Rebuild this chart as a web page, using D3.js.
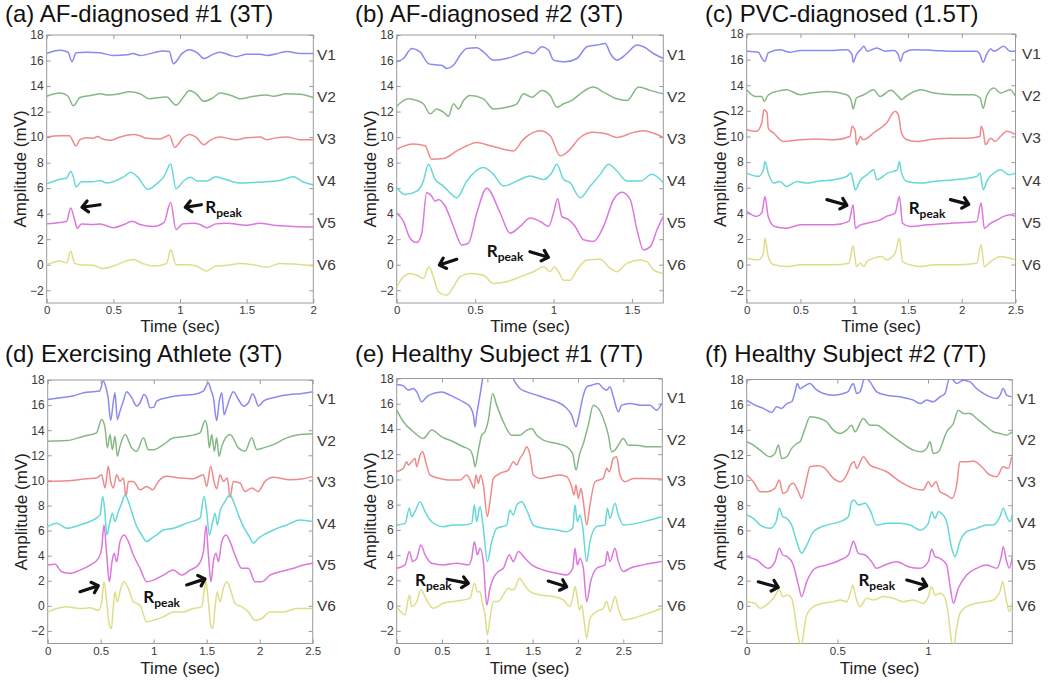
<!DOCTYPE html>
<html>
<head>
<meta charset="utf-8">
<script src="https://cdn.jsdelivr.net/npm/d3@7"></script>
<style>
body { margin: 0; background: #fff; }
svg { display: block; }
</style>
</head>
<body>
<svg id="chart" width="1050" height="683"></svg>
<script>
// lead names, colours and where each lead sits on the amplitude axis
var leads = ["V1", "V2", "V3", "V4", "V5", "V6"];
var leadColors = ["#8a8af0", "#86b886", "#f08a8a", "#66d8d8", "#dc78dc", "#dede8a"];
var leadOffsets = [16.5, 13.2, 9.9, 6.6, 3.3, 0];
var yTicks = [-2, 0, 2, 4, 6, 8, 10, 12, 14, 16, 18];

// (a) AF-diagnosed #1  [time sec, amplitude mV]
var aV1 = [[0,16.55],[0.1,16.8],[0.16,16.65],[0.19,15.9],[0.22,16.6],[0.3,16.65],[0.4,16.6],[0.5,16.4],[0.6,16.45],[0.65,16.55],[0.7,16.4],[0.8,16.6],[0.87,16.75],[0.92,16.7],[0.95,15.75],[1.02,16.6],[1.07,16.85],[1.13,16.6],[1.18,16.15],[1.25,16.5],[1.3,16.65],[1.38,16.4],[1.42,16.3],[1.5,16.5],[1.6,16.5],[1.65,16.4],[1.75,16.6],[1.8,16.7],[1.9,16.55],[2,16.55]];
var aV2 = [[0,13.2],[0.1,13.45],[0.16,13.2],[0.2,12.45],[0.25,13.1],[0.35,13.3],[0.4,13.4],[0.45,13.3],[0.55,13.4],[0.62,13.55],[0.7,13.4],[0.77,13.0],[0.85,13.1],[0.9,13.15],[0.97,12.5],[1.03,13.2],[1.07,13.65],[1.12,13.4],[1.18,12.8],[1.25,13.1],[1.3,13.45],[1.4,13.2],[1.45,13.0],[1.55,13.2],[1.65,13.3],[1.7,13.2],[1.8,13.4],[1.9,13.35],[2,13.1]];
var aV3 = [[0,10.0],[0.1,10.1],[0.17,10.1],[0.22,9.3],[0.25,9.8],[0.3,9.95],[0.35,9.9],[0.38,10.05],[0.42,9.85],[0.48,9.75],[0.55,10.0],[0.65,10.2],[0.7,10.1],[0.75,9.9],[0.85,9.85],[0.92,10.15],[0.96,9.2],[1.02,9.9],[1.07,10.2],[1.12,10.0],[1.18,9.4],[1.22,9.7],[1.3,10.0],[1.38,9.85],[1.42,9.8],[1.5,9.95],[1.6,10.0],[1.65,9.8],[1.7,9.9],[1.8,10.0],[1.9,9.8],[2,9.8]];
var aV4 = [[0,6.35],[0.1,6.7],[0.15,6.8],[0.18,7.3],[0.2,6.9],[0.22,6.1],[0.26,6.5],[0.35,6.5],[0.4,6.6],[0.45,6.4],[0.5,6.5],[0.58,6.9],[0.63,7.25],[0.68,6.9],[0.76,5.9],[0.82,6.3],[0.88,6.9],[0.93,7.9],[0.97,5.95],[1.03,6.6],[1.08,6.85],[1.13,6.55],[1.2,6.55],[1.27,6.9],[1.35,6.65],[1.45,6.4],[1.55,6.45],[1.65,6.5],[1.75,6.6],[1.85,6.9],[1.92,6.5],[2,6.25]];
var aV5 = [[0,3.2],[0.1,3.3],[0.15,3.4],[0.18,4.45],[0.21,3.5],[0.23,2.85],[0.26,3.2],[0.35,3.15],[0.4,3.2],[0.5,2.9],[0.58,3.15],[0.64,3.4],[0.7,3.15],[0.8,3.0],[0.88,3.3],[0.93,4.9],[0.97,2.75],[1.02,3.2],[1.1,3.25],[1.15,3.15],[1.2,2.9],[1.27,3.2],[1.35,3.25],[1.5,3.1],[1.6,3.25],[1.7,3.1],[1.85,3.0],[2,2.95]];
var aV6 = [[0,0.0],[0.1,0.3],[0.15,0.15],[0.18,1.05],[0.21,0.1],[0.25,0.0],[0.35,-0.05],[0.42,-0.3],[0.5,-0.1],[0.6,0.3],[0.65,0.4],[0.72,0.1],[0.8,-0.1],[0.9,0.1],[0.93,1.2],[0.97,0.0],[1.05,0.0],[1.12,-0.1],[1.2,-0.5],[1.27,-0.1],[1.35,-0.05],[1.45,0.1],[1.55,0.0],[1.65,-0.2],[1.75,0.1],[1.85,0.05],[2,-0.1]];

// (b) AF-diagnosed #2
var bV1 = [[0,15.9],[0.043,16.16],[0.096,16.95],[0.149,16.68],[0.202,15.76],[0.234,15.68],[0.287,15.63],[0.319,15.37],[0.362,15.63],[0.404,16.42],[0.447,16.95],[0.511,17.0],[0.553,16.68],[0.617,16.03],[0.702,16.16],[0.766,16.42],[0.83,16.68],[0.872,16.55],[0.926,17.08],[0.968,16.82],[1.0,16.03],[1.032,15.95],[1.074,15.9],[1.149,16.16],[1.213,17.08],[1.277,17.21],[1.33,17.34],[1.362,16.55],[1.404,16.03],[1.468,16.55],[1.532,17.21],[1.574,17.08],[1.638,16.55],[1.7,16.16]];
var bV2 = [[0,12.42],[0.074,13.0],[0.128,12.87],[0.17,12.61],[0.213,11.82],[0.255,12.21],[0.298,11.95],[0.33,11.63],[0.362,12.61],[0.394,12.21],[0.426,12.87],[0.468,13.26],[0.553,13.0],[0.617,12.21],[0.702,12.34],[0.766,12.61],[0.809,13.39],[0.862,13.13],[0.926,13.66],[0.979,13.26],[1.021,12.34],[1.064,12.61],[1.117,12.87],[1.17,13.39],[1.255,13.92],[1.319,13.53],[1.404,13.0],[1.468,12.87],[1.543,13.92],[1.617,13.66],[1.7,13.39]];
var bV3 = [[0,9.05],[0.106,9.45],[0.181,9.32],[0.223,8.26],[0.298,8.32],[0.383,8.92],[0.447,9.32],[0.511,9.58],[0.596,9.32],[0.681,9.05],[0.745,8.92],[0.809,9.84],[0.915,10.5],[0.979,10.11],[1.043,8.53],[1.096,8.92],[1.17,9.97],[1.255,10.37],[1.34,10.24],[1.404,9.97],[1.511,10.37],[1.574,10.5],[1.7,9.97]];
var bV4 = [[0,6.03],[0.053,5.5],[0.128,5.76],[0.17,6.55],[0.202,7.87],[0.245,6.68],[0.298,6.16],[0.34,5.63],[0.383,5.24],[0.447,6.55],[0.553,7.61],[0.617,7.08],[0.681,6.16],[0.766,6.55],[0.851,6.95],[0.936,6.68],[0.989,7.21],[1.021,7.87],[1.064,6.68],[1.106,6.42],[1.17,5.24],[1.234,6.16],[1.298,7.08],[1.351,7.87],[1.404,7.34],[1.468,6.55],[1.553,6.55],[1.628,7.08],[1.7,6.42]];
var bV5 = [[0,4.05],[0.043,3.39],[0.085,2.08],[0.128,1.74],[0.16,2.47],[0.191,5.63],[0.223,5.37],[0.245,4.97],[0.266,5.11],[0.309,4.58],[0.362,3.0],[0.415,1.55],[0.457,1.68],[0.511,4.05],[0.574,6.0],[0.66,4.05],[0.723,2.47],[0.787,3.0],[0.851,3.66],[0.915,3.39],[0.968,3.0],[1.0,4.05],[1.026,5.16],[1.053,3.79],[1.096,3.53],[1.138,3.0],[1.191,1.95],[1.255,1.82],[1.319,3.0],[1.383,5.11],[1.436,5.68],[1.489,5.11],[1.532,2.74],[1.574,1.16],[1.617,1.42],[1.66,2.74],[1.7,3.79]];
var bV6 = [[0,-1.74],[0.043,-0.95],[0.085,-0.68],[0.128,-0.82],[0.17,-1.08],[0.206,-0.16],[0.234,-0.95],[0.266,-2.13],[0.319,-2.39],[0.362,-1.74],[0.404,-0.95],[0.468,-0.68],[0.553,-0.82],[0.617,-1.47],[0.702,-1.34],[0.787,-0.95],[0.872,-0.55],[0.936,-0.16],[0.979,-0.55],[1.004,-0.16],[1.032,-0.55],[1.064,-1.21],[1.106,-1.21],[1.149,-0.42],[1.213,0.37],[1.298,0.42],[1.362,-0.29],[1.404,-0.55],[1.468,0.11],[1.553,0.37],[1.596,0.24],[1.638,-0.42],[1.7,-0.68]];

// (c) PVC-diagnosed
var cV1 = [[0,16.65],[0.11,16.57],[0.14,16.13],[0.17,15.86],[0.2,16.52],[0.31,16.78],[0.4,16.57],[0.5,16.72],[0.65,16.72],[0.81,16.72],[0.93,16.78],[0.98,16.39],[0.99,15.79],[1.02,16.39],[1.06,16.78],[1.09,17.04],[1.12,16.65],[1.21,16.91],[1.29,16.65],[1.37,16.72],[1.41,16.39],[1.43,15.86],[1.46,16.52],[1.55,16.78],[1.74,16.72],[1.93,16.65],[2.14,16.65],[2.17,16.39],[2.2,15.79],[2.23,16.39],[2.27,16.83],[2.3,16.65],[2.39,17.04],[2.45,16.65],[2.5,16.65]];
var cV2 = [[0,13.65],[0.08,13.13],[0.14,13.13],[0.165,12.74],[0.19,13.13],[0.22,13.34],[0.28,13.52],[0.37,13.65],[0.5,13.26],[0.59,13.39],[0.75,13.52],[0.93,13.26],[0.97,12.87],[0.99,12.14],[1.02,13.0],[1.09,13.26],[1.18,13.65],[1.24,13.13],[1.34,13.6],[1.41,13.13],[1.44,12.87],[1.48,13.13],[1.62,13.65],[1.74,13.39],[1.93,13.26],[2.11,13.26],[2.17,13.0],[2.2,12.2],[2.23,13.13],[2.3,13.78],[2.36,13.39],[2.45,13.65],[2.5,13.13]];
var cV3 = [[0,10.53],[0.09,10.4],[0.14,11.05],[0.16,12.09],[0.19,11.83],[0.2,10.66],[0.25,10.27],[0.34,9.61],[0.5,9.74],[0.65,9.8],[0.81,9.74],[0.96,10.0],[0.98,10.79],[1.01,10.4],[1.02,9.35],[1.06,10.0],[1.08,9.74],[1.12,9.87],[1.18,10.27],[1.3,11.05],[1.38,11.96],[1.41,11.7],[1.44,10.27],[1.49,9.74],[1.58,9.61],[1.74,9.8],[1.9,9.87],[2.05,9.87],[2.17,10.0],[2.18,10.79],[2.2,10.4],[2.22,9.35],[2.27,9.87],[2.31,9.61],[2.36,10.0],[2.42,10.4],[2.5,10.14]];
var cV4 = [[0,7.14],[0.11,6.88],[0.155,7.4],[0.17,8.05],[0.2,7.14],[0.25,6.36],[0.31,6.49],[0.37,6.1],[0.47,6.49],[0.56,6.36],[0.65,6.49],[0.81,6.62],[0.93,6.88],[0.97,7.14],[0.99,6.49],[1.01,5.84],[1.06,6.62],[1.12,7.01],[1.18,7.4],[1.21,6.62],[1.31,7.14],[1.4,7.4],[1.42,8.05],[1.44,7.14],[1.49,6.49],[1.62,6.36],[1.74,6.49],[1.93,6.62],[2.14,6.88],[2.17,7.14],[2.2,5.84],[2.24,6.62],[2.3,7.14],[2.36,7.4],[2.44,7.01],[2.5,7.14]];
var cV5 = [[0,4.15],[0.09,3.76],[0.14,4.02],[0.17,5.32],[0.2,3.76],[0.26,2.97],[0.37,2.84],[0.5,3.1],[0.65,3.1],[0.81,3.1],[0.95,3.37],[0.99,4.67],[1.01,2.84],[1.06,3.1],[1.12,3.23],[1.24,3.49],[1.3,3.76],[1.38,4.02],[1.42,5.32],[1.45,3.23],[1.52,2.97],[1.68,3.1],[1.9,3.23],[2.14,3.37],[2.18,4.8],[2.21,2.84],[2.27,3.23],[2.33,3.49],[2.39,3.76],[2.45,3.89],[2.5,3.76]];
var cV6 = [[0,0.5],[0.11,0.37],[0.155,0.89],[0.17,2.06],[0.2,0.63],[0.25,-0.02],[0.37,-0.15],[0.5,-0.02],[0.65,-0.02],[0.81,-0.02],[0.95,0.11],[0.99,1.46],[1.02,-0.15],[1.06,0.11],[1.09,-0.15],[1.12,0.24],[1.18,0.5],[1.26,0.63],[1.3,0.37],[1.38,0.89],[1.42,2.06],[1.45,0.24],[1.52,-0.02],[1.615,-0.15],[1.74,-0.02],[1.93,-0.02],[2.14,0.11],[2.18,1.54],[2.21,-0.15],[2.27,0.24],[2.36,0.63],[2.45,0.5],[2.5,0.37]];

// (d) Exercising athlete
var dV1 = [[0,16.45],[0.12,16.59],[0.24,16.72],[0.34,16.99],[0.43,17.07],[0.49,17.12],[0.525,17.92],[0.55,17.39],[0.57,16.59],[0.594,14.77],[0.62,16.32],[0.635,16.99],[0.657,14.85],[0.682,15.52],[0.714,16.32],[0.745,17.07],[0.792,16.59],[0.84,15.92],[0.871,16.19],[0.909,16.85],[0.934,16.59],[0.965,15.79],[1.003,15.84],[1.028,16.32],[1.123,16.59],[1.248,16.77],[1.374,16.85],[1.469,17.12],[1.516,17.79],[1.538,17.25],[1.563,16.59],[1.594,14.77],[1.619,16.32],[1.642,16.99],[1.664,15.25],[1.689,15.79],[1.72,16.59],[1.752,17.07],[1.799,16.45],[1.846,15.92],[1.893,16.19],[1.934,16.91],[1.956,16.59],[1.987,15.92],[2.035,16.32],[2.129,16.59],[2.286,16.85],[2.38,16.91],[2.5,17.07]];
var dV2 = [[0,13.12],[0.18,13.17],[0.34,13.52],[0.46,13.79],[0.509,14.85],[0.541,14.19],[0.563,12.59],[0.588,13.65],[0.61,12.45],[0.635,13.52],[0.657,11.92],[0.682,12.72],[0.73,13.65],[0.792,12.59],[0.84,12.32],[0.903,13.39],[0.95,12.45],[0.997,12.45],[1.091,12.85],[1.186,13.39],[1.311,13.52],[1.437,13.79],[1.484,14.77],[1.506,14.19],[1.525,12.59],[1.547,13.65],[1.572,12.32],[1.594,13.39],[1.616,11.92],[1.642,12.72],[1.72,13.65],[1.799,12.59],[1.862,12.32],[1.925,13.39],[1.972,12.45],[2.035,12.59],[2.129,12.85],[2.255,13.39],[2.38,13.65],[2.5,13.71]];
var dV3 = [[0,9.92],[0.18,9.97],[0.37,10.13],[0.46,10.19],[0.509,10.45],[0.541,9.39],[0.572,11.12],[0.594,9.92],[0.619,9.39],[0.651,10.45],[0.682,9.92],[0.714,10.19],[0.739,8.72],[0.761,9.92],[0.808,9.92],[0.871,9.25],[0.934,9.52],[0.991,9.25],[1.044,9.92],[1.123,10.32],[1.248,10.19],[1.374,10.13],[1.469,10.45],[1.5,9.52],[1.538,11.12],[1.569,9.92],[1.594,9.33],[1.626,10.45],[1.657,9.92],[1.695,10.19],[1.72,8.64],[1.752,9.92],[1.814,9.79],[1.862,9.12],[1.925,9.39],[1.987,9.12],[2.05,9.92],[2.129,10.24],[2.286,10.05],[2.412,10.13],[2.5,10.32]];
var dV4 = [[0,6.32],[0.085,6.59],[0.179,6.19],[0.305,6.45],[0.399,6.72],[0.494,7.25],[0.519,8.72],[0.538,7.65],[0.557,5.65],[0.588,6.72],[0.61,7.39],[0.635,6.72],[0.667,7.52],[0.698,8.19],[0.73,8.85],[0.761,8.32],[0.792,7.52],[0.84,6.32],[0.887,5.65],[0.934,5.12],[0.981,5.39],[1.028,5.65],[1.091,6.05],[1.186,6.19],[1.311,6.59],[1.437,6.99],[1.475,8.72],[1.5,7.52],[1.525,5.65],[1.557,6.72],[1.579,7.39],[1.6,6.45],[1.626,7.52],[1.673,8.32],[1.72,8.85],[1.752,8.32],[1.799,7.25],[1.846,6.32],[1.903,5.52],[1.94,4.99],[1.987,5.39],[2.035,5.65],[2.129,6.05],[2.255,6.45],[2.38,6.85],[2.5,6.72]];
var dV5 = [[0,3.25],[0.069,3.31],[0.132,2.72],[0.211,2.59],[0.305,2.85],[0.399,3.25],[0.478,3.79],[0.509,4.59],[0.531,6.45],[0.557,4.05],[0.582,1.92],[0.607,3.52],[0.626,4.19],[0.651,3.52],[0.682,5.12],[0.72,5.65],[0.761,5.12],[0.808,4.05],[0.871,2.99],[0.934,1.92],[0.997,2.05],[1.091,2.45],[1.186,2.85],[1.264,2.45],[1.343,2.85],[1.421,3.25],[1.469,4.32],[1.494,6.4],[1.516,4.05],[1.541,1.92],[1.563,3.52],[1.588,4.19],[1.61,3.52],[1.642,5.12],[1.682,5.65],[1.72,5.12],[1.767,4.05],[1.83,2.99],[1.893,2.99],[1.956,1.92],[2.019,1.92],[2.097,2.45],[2.192,2.72],[2.318,2.99],[2.412,3.25],[2.5,3.39]];
var dV6 = [[0,-0.48],[0.085,-0.21],[0.179,-0.08],[0.305,-0.21],[0.399,-0.16],[0.478,-0.35],[0.509,0.32],[0.531,1.92],[0.557,0.32],[0.582,-1.55],[0.601,-1.81],[0.619,-0.08],[0.635,1.12],[0.657,0.32],[0.689,1.39],[0.72,1.92],[0.761,1.39],[0.808,0.32],[0.871,0.05],[0.934,-1.28],[0.997,-1.15],[1.091,-0.88],[1.186,-0.48],[1.28,-0.48],[1.374,-0.21],[1.453,-0.08],[1.475,1.12],[1.494,1.92],[1.516,0.32],[1.538,-1.55],[1.557,-1.81],[1.579,-0.08],[1.6,1.12],[1.626,0.32],[1.657,1.39],[1.689,1.92],[1.726,1.25],[1.767,0.19],[1.83,-0.08],[1.893,-0.48],[1.956,-1.15],[2.019,-1.01],[2.097,-0.48],[2.223,-0.48],[2.349,-0.21],[2.5,-0.21]];

// (e) Healthy subject #1
var eV1 = [[0,17.53],[0.074,17.42],[0.129,17.08],[0.184,17.21],[0.221,16.94],[0.276,16.15],[0.331,16.55],[0.404,16.81],[0.496,16.94],[0.588,16.68],[0.662,16.42],[0.735,16.15],[0.809,15.76],[0.846,15.1],[0.864,14.17],[0.882,15.1],[0.919,16.68],[0.949,18.0],[0.974,18.53],[1.1,19.0],[1.2,18.8],[1.276,18.13],[1.305,17.74],[1.36,17.21],[1.434,16.94],[1.544,16.68],[1.654,16.42],[1.765,16.15],[1.857,15.76],[1.93,15.1],[1.978,14.17],[2.004,14.83],[2.059,16.68],[2.096,17.34],[2.151,17.47],[2.224,17.6],[2.279,17.21],[2.316,17.08],[2.353,17.34],[2.39,16.55],[2.445,15.36],[2.482,15.89],[2.574,16.02],[2.684,15.89],[2.794,15.89],[2.868,15.49],[2.923,16.02]];
var eV2 = [[0,15.49],[0.074,14.57],[0.184,13.78],[0.294,13.25],[0.386,13.91],[0.496,13.38],[0.625,12.99],[0.735,12.59],[0.809,12.33],[0.846,11.67],[0.864,11.01],[0.901,12.33],[0.938,13.51],[0.974,13.78],[1.011,14.7],[1.059,16.81],[1.103,15.89],[1.176,14.57],[1.268,13.51],[1.36,13.51],[1.434,13.91],[1.489,14.04],[1.544,13.51],[1.618,13.12],[1.765,12.85],[1.875,12.59],[1.941,12.06],[1.978,10.74],[2.015,11.93],[2.059,12.85],[2.114,14.31],[2.169,15.89],[2.224,15.63],[2.279,14.83],[2.335,13.51],[2.371,12.2],[2.408,12.33],[2.445,12.72],[2.5,13.25],[2.555,12.72],[2.647,12.72],[2.757,12.59],[2.923,12.59]];
var eV3 = [[0,10.61],[0.074,10.88],[0.11,11.4],[0.129,11.14],[0.165,11.4],[0.202,11.67],[0.221,11.01],[0.257,11.93],[0.287,12.2],[0.324,11.27],[0.368,10.35],[0.478,10.08],[0.588,9.95],[0.699,9.95],[0.772,10.35],[0.827,9.69],[0.853,9.29],[0.875,10.35],[0.901,9.69],[0.926,10.35],[0.956,9.56],[1.0,7.05],[1.029,8.24],[1.066,10.08],[1.14,10.48],[1.232,10.74],[1.287,11.4],[1.324,11.14],[1.36,11.67],[1.397,12.06],[1.434,12.59],[1.471,11.93],[1.507,10.35],[1.581,10.08],[1.691,10.22],[1.801,10.35],[1.875,10.22],[1.93,9.42],[1.956,8.77],[1.978,9.56],[2.004,8.5],[2.033,9.29],[2.059,8.24],[2.096,6.39],[2.132,7.97],[2.188,9.82],[2.279,10.08],[2.316,10.88],[2.346,10.61],[2.39,11.67],[2.426,11.8],[2.463,10.35],[2.518,9.82],[2.61,10.08],[2.721,10.08],[2.923,10.03]];
var eV4 = [[0,6.39],[0.092,6.52],[0.14,7.71],[0.165,7.05],[0.202,7.45],[0.257,8.24],[0.313,7.45],[0.386,6.65],[0.515,6.26],[0.625,6.39],[0.735,6.39],[0.827,6.52],[0.857,7.97],[0.882,6.65],[0.919,7.84],[0.956,6.13],[1.0,3.49],[1.048,5.07],[1.103,6.13],[1.213,6.39],[1.25,7.58],[1.287,7.18],[1.324,7.97],[1.379,8.24],[1.434,7.58],[1.507,6.39],[1.618,6.13],[1.765,6.0],[1.875,5.86],[1.941,6.13],[1.967,7.97],[1.993,6.65],[2.022,7.18],[2.051,6.26],[2.096,3.49],[2.132,5.07],[2.206,6.26],[2.298,6.39],[2.324,7.71],[2.353,6.92],[2.408,8.11],[2.445,7.18],[2.5,6.39],[2.647,6.52],[2.794,6.79],[2.923,7.05]];
var eV5 = [[0,2.96],[0.092,3.23],[0.14,4.29],[0.176,3.49],[0.221,3.75],[0.265,4.81],[0.313,4.03],[0.386,3.36],[0.515,3.23],[0.662,3.36],[0.79,3.23],[0.827,3.75],[0.857,5.07],[0.89,4.03],[0.919,4.55],[0.956,3.49],[0.993,0.06],[1.029,1.38],[1.066,2.17],[1.121,2.7],[1.176,2.96],[1.243,4.03],[1.287,3.49],[1.342,4.29],[1.415,3.75],[1.489,3.23],[1.618,2.83],[1.765,2.57],[1.875,2.43],[1.941,2.96],[1.967,4.55],[1.993,3.23],[2.022,3.75],[2.059,2.96],[2.096,0.32],[2.14,1.91],[2.206,2.96],[2.298,3.23],[2.324,4.29],[2.353,3.49],[2.408,4.55],[2.445,3.49],[2.5,2.7],[2.574,2.96],[2.721,3.23],[2.923,3.49]];
var eV6 = [[0,-0.07],[0.092,-0.73],[0.14,0.85],[0.165,-0.07],[0.221,0.32],[0.265,1.25],[0.331,0.45],[0.404,-0.21],[0.515,0.19],[0.625,0.32],[0.735,0.45],[0.809,0.59],[0.857,1.77],[0.89,1.11],[0.919,1.11],[0.949,0.06],[0.974,-0.73],[1.0,-2.32],[1.029,-1.0],[1.066,0.32],[1.121,0.32],[1.176,0.85],[1.232,1.38],[1.268,1.25],[1.305,1.38],[1.353,2.17],[1.397,1.77],[1.471,1.11],[1.581,0.85],[1.728,0.72],[1.838,0.45],[1.912,-0.07],[1.941,0.59],[1.967,1.51],[1.993,0.59],[2.015,-0.34],[2.04,0.06],[2.066,-1.13],[2.096,-2.58],[2.132,-1.0],[2.206,-0.47],[2.279,-0.21],[2.316,0.32],[2.353,-0.47],[2.408,0.72],[2.445,-0.21],[2.5,-1.13],[2.61,-1.0],[2.721,-0.73],[2.831,-0.47],[2.923,-0.21]];

// (f) Healthy subject #2
var fV1 = [[0,16.36],[0.046,15.96],[0.092,15.7],[0.138,15.38],[0.165,15.83],[0.193,15.7],[0.221,16.09],[0.248,16.23],[0.267,17.02],[0.279,17.68],[0.294,17.28],[0.312,17.42],[0.349,17.68],[0.377,17.28],[0.423,16.89],[0.478,16.75],[0.533,16.89],[0.561,17.07],[0.579,17.55],[0.588,17.68],[0.607,16.89],[0.625,17.02],[0.653,18.2],[0.68,17.81],[0.717,17.02],[0.772,16.75],[0.846,16.62],[0.919,16.36],[0.956,16.09],[0.993,16.36],[1.029,16.23],[1.066,16.62],[1.094,16.89],[1.118,18.08],[1.14,17.95],[1.158,17.68],[1.176,17.81],[1.195,17.95],[1.232,17.81],[1.268,17.28],[1.305,16.89],[1.342,16.62],[1.379,16.49],[1.397,16.75],[1.415,17.28],[1.434,16.75],[1.461,16.62]];
var fV2 = [[0,13.05],[0.037,12.78],[0.074,12.38],[0.129,11.85],[0.156,12.12],[0.175,12.78],[0.193,11.72],[0.221,11.85],[0.248,12.52],[0.276,12.91],[0.294,13.05],[0.322,14.11],[0.349,15.03],[0.404,14.9],[0.441,14.64],[0.478,13.97],[0.515,13.71],[0.551,13.97],[0.579,14.37],[0.597,13.84],[0.643,14.9],[0.68,14.37],[0.717,14.37],[0.772,13.84],[0.846,13.05],[0.919,12.38],[0.965,12.25],[0.993,12.52],[1.011,13.05],[1.029,12.12],[1.057,12.25],[1.103,13.84],[1.14,14.5],[1.167,15.56],[1.195,15.3],[1.232,15.3],[1.268,14.9],[1.324,14.24],[1.36,13.84],[1.397,13.71],[1.434,13.58],[1.465,13.84]];
var fV3 = [[0,10.4],[0.037,9.87],[0.074,9.07],[0.11,9.07],[0.156,9.34],[0.18,10.0],[0.199,8.94],[0.221,9.07],[0.239,9.6],[0.257,9.74],[0.285,9.07],[0.303,8.54],[0.331,10.13],[0.349,11.06],[0.395,11.14],[0.432,10.93],[0.478,10.13],[0.515,9.87],[0.551,10.4],[0.579,11.32],[0.592,11.46],[0.607,10.93],[0.643,11.85],[0.68,11.19],[0.726,10.93],[0.772,10.66],[0.846,9.87],[0.919,9.34],[0.974,9.21],[1.002,9.87],[1.02,9.47],[1.044,9.87],[1.066,9.07],[1.103,8.81],[1.131,8.54],[1.158,9.6],[1.176,11.46],[1.213,11.46],[1.25,11.51],[1.296,11.06],[1.342,10.4],[1.379,10.27],[1.415,11.06],[1.443,10.93],[1.461,11.85]];
var fV4 = [[0,7.22],[0.037,6.95],[0.074,6.42],[0.129,6.16],[0.162,6.69],[0.18,7.75],[0.199,7.09],[0.221,6.95],[0.248,6.42],[0.276,5.1],[0.303,4.17],[0.331,4.83],[0.368,5.89],[0.441,6.42],[0.515,6.69],[0.561,7.09],[0.579,8.28],[0.592,8.41],[0.616,8.01],[0.653,8.15],[0.68,7.62],[0.717,6.42],[0.772,6.56],[0.846,6.56],[0.901,6.42],[0.956,6.03],[1.002,6.56],[1.02,7.48],[1.039,6.95],[1.057,7.48],[1.075,7.35],[1.103,6.69],[1.131,4.57],[1.149,3.91],[1.176,5.1],[1.213,5.89],[1.268,6.16],[1.324,6.42],[1.36,6.42],[1.397,7.09],[1.415,7.75],[1.434,7.09],[1.452,6.69],[1.465,7.22]];
var fV5 = [[0,3.91],[0.055,3.64],[0.119,2.98],[0.156,3.51],[0.18,4.57],[0.199,4.04],[0.224,3.91],[0.257,3.25],[0.285,1.66],[0.303,0.73],[0.331,1.92],[0.377,2.98],[0.441,3.25],[0.515,3.64],[0.561,4.04],[0.579,4.83],[0.588,5.15],[0.616,4.17],[0.653,4.04],[0.689,3.51],[0.717,2.98],[0.763,3.25],[0.827,3.51],[0.892,3.11],[0.956,2.98],[1.002,3.51],[1.02,4.49],[1.039,3.91],[1.066,3.77],[1.103,3.25],[1.121,1.66],[1.14,0.2],[1.167,1.39],[1.213,2.45],[1.268,2.98],[1.324,3.25],[1.379,2.98],[1.406,4.04],[1.415,4.7],[1.434,3.51],[1.449,2.98],[1.465,3.91]];
var fV6 = [[0,0.33],[0.046,0.2],[0.074,-0.2],[0.11,0.07],[0.147,0.6],[0.18,1.26],[0.199,0.73],[0.224,0.86],[0.248,0.6],[0.263,-0.46],[0.279,-2.05],[0.294,-3.11],[0.3,-3.4],[0.312,-2.32],[0.331,-0.73],[0.368,-0.07],[0.423,0.2],[0.478,0.33],[0.515,0.46],[0.551,0.33],[0.574,1.13],[0.585,1.66],[0.603,0.6],[0.625,-0.07],[0.662,0.6],[0.699,0.46],[0.754,0.73],[0.809,0.6],[0.864,0.33],[0.919,0.46],[0.974,0.2],[1.002,0.73],[1.02,1.52],[1.039,0.86],[1.066,0.99],[1.094,0.6],[1.112,-0.73],[1.125,-2.32],[1.14,-3.4],[1.158,-1.79],[1.176,-0.6],[1.213,-0.07],[1.268,0.2],[1.324,0.33],[1.36,0.46],[1.397,1.13],[1.412,1.92],[1.43,0.6],[1.449,-0.46],[1.465,0.33]];

// R-peak arrows: [tail t, tail mV, head t, head mV]; label anchor [t, mV]
var aArrows = [[0.40,4.7,0.265,4.5],[1.16,4.7,1.04,4.5]], aLabel = [1.19,4.05];
var bArrows = [[0.383,0.42,0.272,-0.03],[0.85,1.02,0.967,0.58]], bLabel = [0.574,0.63];
var cArrows = [[0.746,5.07,0.932,4.63],[1.895,5.07,2.065,4.70]], cLabel = [1.506,3.98];
var dArrows = [[0.305,1.13,0.477,1.61],[1.311,1.67,1.484,2.15]], dLabel = [0.902,0.2];
var eArrows = [[0.558,2.09,0.79,1.77],[1.672,1.95,1.875,1.5]], eLabel = [0.202,1.58];
var fArrows = [[0.064,1.91,0.174,1.47],[0.883,2.05,0.993,1.59]], fLabel = [0.616,1.59];

var panels = [
  { key: "a", title: "(a) AF-diagnosed #1 (3T)", tMax: 2, xTicks: [0, 0.5, 1, 1.5, 2],
    traces: [aV1, aV2, aV3, aV4, aV5, aV6], arrows: aArrows, label: aLabel,
    left: 46.7, right: 313.3, top: 35, bottom: 303, tx: 5, ty: 22, vx: 317, timeY: 29 },
  { key: "b", title: "(b) AF-diagnosed #2 (3T)", tMax: 1.7, xTicks: [0, 0.5, 1, 1.5],
    traces: [bV1, bV2, bV3, bV4, bV5, bV6], arrows: bArrows, label: bLabel,
    left: 396.7, right: 663.3, top: 35, bottom: 303, tx: 355, ty: 22, vx: 667, timeY: 29 },
  { key: "c", title: "(c) PVC-diagnosed (1.5T)", tMax: 2.5, xTicks: [0, 0.5, 1, 1.5, 2, 2.5],
    traces: [cV1, cV2, cV3, cV4, cV5, cV6], arrows: cArrows, label: cLabel,
    left: 746.7, right: 1015.5, top: 34, bottom: 303, tx: 705, ty: 22, vx: 1022, timeY: 29 },
  { key: "d", title: "(d) Exercising Athlete (3T)", tMax: 2.5, xTicks: [0, 0.5, 1, 1.5, 2, 2.5],
    traces: [dV1, dV2, dV3, dV4, dV5, dV6], arrows: dArrows, label: dLabel,
    left: 47.7, right: 312.7, top: 380, bottom: 643.5, tx: 5, ty: 362, vx: 317, timeY: 30.5 },
  { key: "e", title: "(e) Healthy Subject #1 (7T)", tMax: 2.93, xTicks: [0, 0.5, 1, 1.5, 2, 2.5],
    traces: [eV1, eV2, eV3, eV4, eV5, eV6], arrows: eArrows, label: eLabel,
    left: 396.7, right: 662.3, top: 378.5, bottom: 643.5, tx: 355, ty: 362, vx: 667, timeY: 30.5 },
  { key: "f", title: "(f) Healthy Subject #2 (7T)", tMax: 1.465, xTicks: [0, 0.5, 1],
    traces: [fV1, fV2, fV3, fV4, fV5, fV6], arrows: fArrows, label: fLabel,
    left: 746.7, right: 1012.3, top: 379.5, bottom: 643.5, tx: 705, ty: 362, vx: 1017, timeY: 30.5 }
];

var font = "'Liberation Sans', Arial, sans-serif";
var frameColor = "#9a9a9a";
var textColor = "#3a3a3a";
var svg = d3.select("#chart");
var fmt = d3.format("~g");

panels.forEach(function(p) {
  var x = d3.scaleLinear().domain([0, p.tMax]).range([p.left, p.right]);
  var y = d3.scaleLinear().domain([-3, 18]).range([p.bottom, p.top]);
  var g = svg.append("g");

  // clip for the traces that run past the frame
  svg.append("clipPath").attr("id", "clip-" + p.key)
    .append("rect")
    .attr("x", p.left).attr("y", p.top)
    .attr("width", p.right - p.left).attr("height", p.bottom - p.top);

  // title
  g.append("text")
    .attr("x", p.tx).attr("y", p.ty)
    .attr("font-family", font).attr("font-size", 24)
    .attr("fill", "#111")
    .text(p.title);

  // axes, ticks inward like matlab
  var xb = g.append("g").attr("transform", "translate(0," + p.bottom + ")")
    .call(d3.axisBottom(x).tickValues(p.xTicks).tickFormat(fmt).tickSizeInner(-4).tickSizeOuter(0).tickPadding(3));
  var xt = g.append("g").attr("transform", "translate(0," + p.top + ")")
    .call(d3.axisTop(x).tickValues(p.xTicks).tickFormat("").tickSizeInner(-4).tickSizeOuter(0));
  var yl = g.append("g").attr("transform", "translate(" + p.left + ",0)")
    .call(d3.axisLeft(y).tickValues(yTicks).tickFormat(fmt).tickSizeInner(-4).tickSizeOuter(0).tickPadding(3));
  var yr = g.append("g").attr("transform", "translate(" + p.right + ",0)")
    .call(d3.axisRight(y).tickValues(yTicks).tickFormat("").tickSizeInner(-4).tickSizeOuter(0));

  [xb, xt, yl, yr].forEach(function(ax) {
    ax.select(".domain").remove();
    ax.selectAll("line").attr("stroke", frameColor);
    ax.selectAll("text")
      .attr("font-family", font).attr("font-size", 12)
      .attr("fill", textColor);
  });
  xb.selectAll("text").attr("font-size", 11.5);

  g.append("rect")
    .attr("x", p.left).attr("y", p.top)
    .attr("width", p.right - p.left).attr("height", p.bottom - p.top)
    .attr("fill", "none").attr("stroke", frameColor).attr("stroke-width", 1);

  // axis titles
  g.append("text")
    .attr("x", (p.left + p.right) / 2).attr("y", p.bottom + p.timeY)
    .attr("text-anchor", "middle")
    .attr("font-family", font).attr("font-size", 17).attr("fill", "#222")
    .text("Time (sec)");

  g.append("text")
    .attr("transform", "translate(" + (p.left - 21) + "," + ((p.top + p.bottom) / 2) + ") rotate(-90)")
    .attr("text-anchor", "middle")
    .attr("font-family", font).attr("font-size", 17).attr("fill", "#222")
    .text("Amplitude (mV)");

  // the six leads
  var line = d3.line()
    .x(function(d) { return x(d[0]); })
    .y(function(d) { return y(d[1]); })
    .curve(d3.curveMonotoneX);

  g.append("g").attr("clip-path", "url(#clip-" + p.key + ")")
    .selectAll("path")
    .data(p.traces)
    .enter()
    .append("path")
    .attr("d", line)
    .attr("fill", "none")
    .attr("stroke", function(d, i) { return leadColors[i]; })
    .attr("stroke-width", 1.5)
    .attr("stroke-linejoin", "round");

  // lead names on the right
  g.selectAll(".lead")
    .data(leads)
    .enter()
    .append("text")
    .attr("class", "lead")
    .attr("x", p.vx)
    .attr("y", function(d, i) { return y(leadOffsets[i]); })
    .attr("dy", "0.36em")
    .attr("font-family", font).attr("font-size", 15.5).attr("fill", textColor)
    .text(function(d) { return d; });

  // R-peak arrows
  p.arrows.forEach(function(a) {
    var x1 = x(a[0]), y1 = y(a[1]), x2 = x(a[2]), y2 = y(a[3]);
    var ang = Math.atan2(y2 - y1, x2 - x1);
    var L = 8, s = 0.75;
    var path = d3.path();
    path.moveTo(x1, y1); path.lineTo(x2, y2);
    path.moveTo(x2 - L * Math.cos(ang - s), y2 - L * Math.sin(ang - s));
    path.lineTo(x2, y2);
    path.lineTo(x2 - L * Math.cos(ang + s), y2 - L * Math.sin(ang + s));
    g.append("path")
      .attr("d", path.toString())
      .attr("fill", "none").attr("stroke", "#111")
      .attr("stroke-width", 3.2)
      .attr("stroke-linecap", "round").attr("stroke-linejoin", "round");
  });

  var lab = g.append("text")
    .attr("x", x(p.label[0])).attr("y", y(p.label[1]))
    .attr("font-family", "Lato, 'Open Sans', sans-serif")
    .attr("font-weight", "bold").attr("fill", "#111");
  lab.append("tspan").attr("font-size", 17).text("R");
  lab.append("tspan").attr("font-size", 12).attr("dy", 4).text("peak");
});
</script>
</body>
</html>
